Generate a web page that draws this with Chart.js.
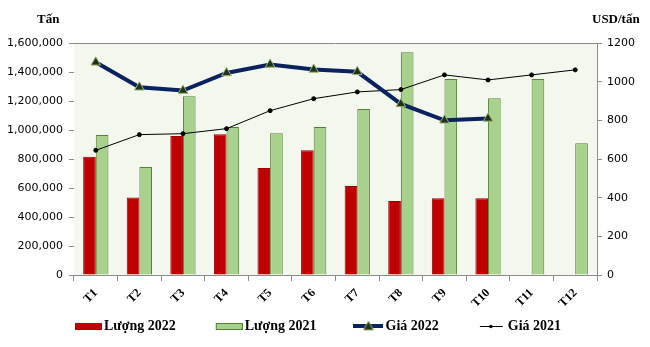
<!DOCTYPE html>
<html>
<head>
<meta charset="utf-8">
<script src="https://cdn.jsdelivr.net/npm/chart.js@4.4.0/dist/chart.umd.min.js"></script>
<style>
  html, body { margin: 0; padding: 0; background: #fff; }
  #wrap { width: 650px; height: 347px; }
</style>
</head>
<body>
<div id="wrap"><canvas id="rubberChart"></canvas></div>
<script>
// monthly volume (tons) and price (USD/ton)
var months = ['T1', 'T2', 'T3', 'T4', 'T5', 'T6', 'T7', 'T8', 'T9', 'T10', 'T11', 'T12'];
var luong2022 = [815000, 535000, 958000, 970000, 738000, 860000, 614000, 510000, 530000, 530000, null, null];
var luong2021 = [965000, 745000, 1232000, 1021000, 977000, 1021000, 1145000, 1536000, 1352000, 1219000, 1352000, 908000];
var gia2022 = [1100, 971, 954, 1045, 1089, 1063, 1051, 885, 800, 810, null, null];
var gia2021 = [645, 726, 731, 757, 850, 912, 947, 959, 1035, 1009, 1035, 1061];

var serif = "'Liberation Serif', 'Times New Roman', serif";
var axisGrey = '#8c8c8c';

// small canvases used as legend swatches
function swatch(draw) {
    var c = document.createElement('canvas');
    c.width = 30; c.height = 12;
    draw(c.getContext('2d'));
    return c;
}
var swatches = [
    swatch(function (g) { g.fillStyle = '#C00000'; g.fillRect(3, 3, 27, 7); }),
    swatch(function (g) {
        g.fillStyle = '#A9D18E'; g.fillRect(3, 3, 27, 7);
        g.strokeStyle = '#548235'; g.lineWidth = 1; g.strokeRect(3.5, 3.5, 26, 6);
    }),
    swatch(function (g) {
        g.strokeStyle = '#0B2260'; g.lineWidth = 4;
        g.beginPath(); g.moveTo(0, 6); g.lineTo(30, 6); g.stroke();
        g.fillStyle = '#1E3320'; g.strokeStyle = '#9DB36A'; g.lineWidth = 1;
        g.beginPath(); g.moveTo(15, 1); g.lineTo(20, 10); g.lineTo(10, 10); g.closePath();
        g.fill(); g.stroke();
    }),
    swatch(function (g) {
        g.strokeStyle = '#000'; g.lineWidth = 1;
        g.beginPath(); g.moveTo(4, 6.5); g.lineTo(27, 6.5); g.stroke();
        g.fillStyle = '#000';
        g.beginPath(); g.arc(15, 6.5, 1.8, 0, Math.PI * 2); g.fill();
    })
];

// plot background, top border and the two unit captions
var frame = {
    id: 'frame',
    afterLayout: function (chart) {
        // legend keeps wide horizontal gaps but sits just under the month labels
        var lg = chart.legend;
        lg.top -= 44;
        lg.left -= 6; lg.right -= 6;
    },
    beforeDatasetsDraw: function (chart) {
        var a = chart.chartArea, ctx = chart.ctx;
        ctx.save();
        ctx.fillStyle = '#F3F7EE';
        ctx.fillRect(a.left, a.top, a.right - a.left, a.bottom - a.top);
        ctx.strokeStyle = axisGrey;
        ctx.lineWidth = 1;
        ctx.beginPath();
        ctx.moveTo(a.left, a.top + 0.5);
        ctx.lineTo(a.right, a.top + 0.5);
        ctx.stroke();
        ctx.restore();
    },
    afterDraw: function (chart) {
        var ctx = chart.ctx;
        ctx.save();
        ctx.fillStyle = '#000';
        ctx.font = "bold 13px " + serif;
        ctx.textBaseline = 'alphabetic';
        ctx.fillText('Tấn', 37, 23);
        ctx.fillText('USD/tấn', 592, 23);
        ctx.restore();
    }
};

var ctx = document.getElementById('rubberChart').getContext('2d');
var rubberChart = new Chart(ctx, {
    type: 'bar',
    data: {
        labels: months,
        datasets: [{
            type: 'bar',
            label: 'Lượng 2022',
            data: luong2022,
            backgroundColor: '#C00000',
            borderColor: '#9A0000',
            borderWidth: 1,
            yAxisID: 'y',
            order: 3
        }, {
            type: 'bar',
            label: 'Lượng 2021',
            data: luong2021,
            backgroundColor: '#A9D18E',
            borderColor: '#548235',
            borderWidth: 1,
            yAxisID: 'y',
            order: 4
        }, {
            type: 'line',
            label: 'Giá 2022',
            data: gia2022,
            borderColor: '#0B2260',
            borderWidth: 4,
            pointStyle: 'triangle',
            pointRadius: 5.5,
            pointBackgroundColor: '#1E3320',
            pointBorderColor: '#9DB36A',
            pointBorderWidth: 1,
            tension: 0,
            yAxisID: 'y1',
            order: 1
        }, {
            type: 'line',
            label: 'Giá 2021',
            data: gia2021,
            borderColor: '#000000',
            borderWidth: 1,
            pointRadius: 2,
            pointBackgroundColor: '#000',
            pointBorderColor: '#000',
            tension: 0,
            yAxisID: 'y1',
            order: 2
        }]
    },
    options: {
        responsive: true,
        maintainAspectRatio: false,
        animation: false,
        layout: { padding: { top: 43, left: 0, right: 0, bottom: 2 } },
        datasets: {
            bar: { categoryPercentage: 0.58, barPercentage: 1.0 }
        },
        plugins: {
            tooltip: { enabled: false },
            legend: {
                position: 'bottom',
                maxHeight: 24,
                labels: {
                    usePointStyle: true,
                    pointStyleWidth: 20,
                    padding: 42,
                    color: '#000',
                    font: { family: serif, weight: 'bold', size: 14 },
                    generateLabels: function (chart) {
                        return chart.data.datasets.map(function (ds, i) {
                            return {
                                text: ds.label,
                                pointStyle: swatches[i],
                                fillStyle: 'transparent',
                                strokeStyle: 'transparent',
                                lineWidth: 0,
                                fontColor: '#000',
                                datasetIndex: i
                            };
                        });
                    }
                }
            }
        },
        scales: {
            x: {
                grid: {
                    offset: true,
                    drawOnChartArea: false,
                    drawTicks: true,
                    tickLength: 6,
                    color: axisGrey
                },
                border: { display: true, color: axisGrey },
                ticks: {
                    color: '#000',
                    font: { family: serif, weight: 'bold', size: 12 },
                    minRotation: 45,
                    maxRotation: 45,
                    padding: 5
                },
                afterFit: function (scale) { scale.height = 46; }
            },
            y: {
                position: 'left',
                min: 0,
                max: 1600000,
                ticks: {
                    stepSize: 200000,
                    color: '#000',
                    font: { family: 'DejaVu Sans', size: 11 },
                    padding: 6,
                    callback: function (v) { return v.toLocaleString('en-US'); }
                },
                grid: { drawOnChartArea: false, tickLength: 5, color: axisGrey },
                border: { display: true, color: axisGrey },
                afterFit: function (scale) { scale.width = 74; }
            },
            y1: {
                position: 'right',
                min: 0,
                max: 1200,
                ticks: {
                    stepSize: 200,
                    color: '#000',
                    font: { family: 'DejaVu Sans', size: 11 },
                    padding: 5,
                    callback: function (v) { return String(v); }
                },
                grid: { drawOnChartArea: false, tickLength: 5, color: axisGrey },
                border: { display: true, color: axisGrey },
                afterFit: function (scale) { scale.width = 53; }
            }
        }
    },
    plugins: [frame]
});
</script>
</body>
</html>
